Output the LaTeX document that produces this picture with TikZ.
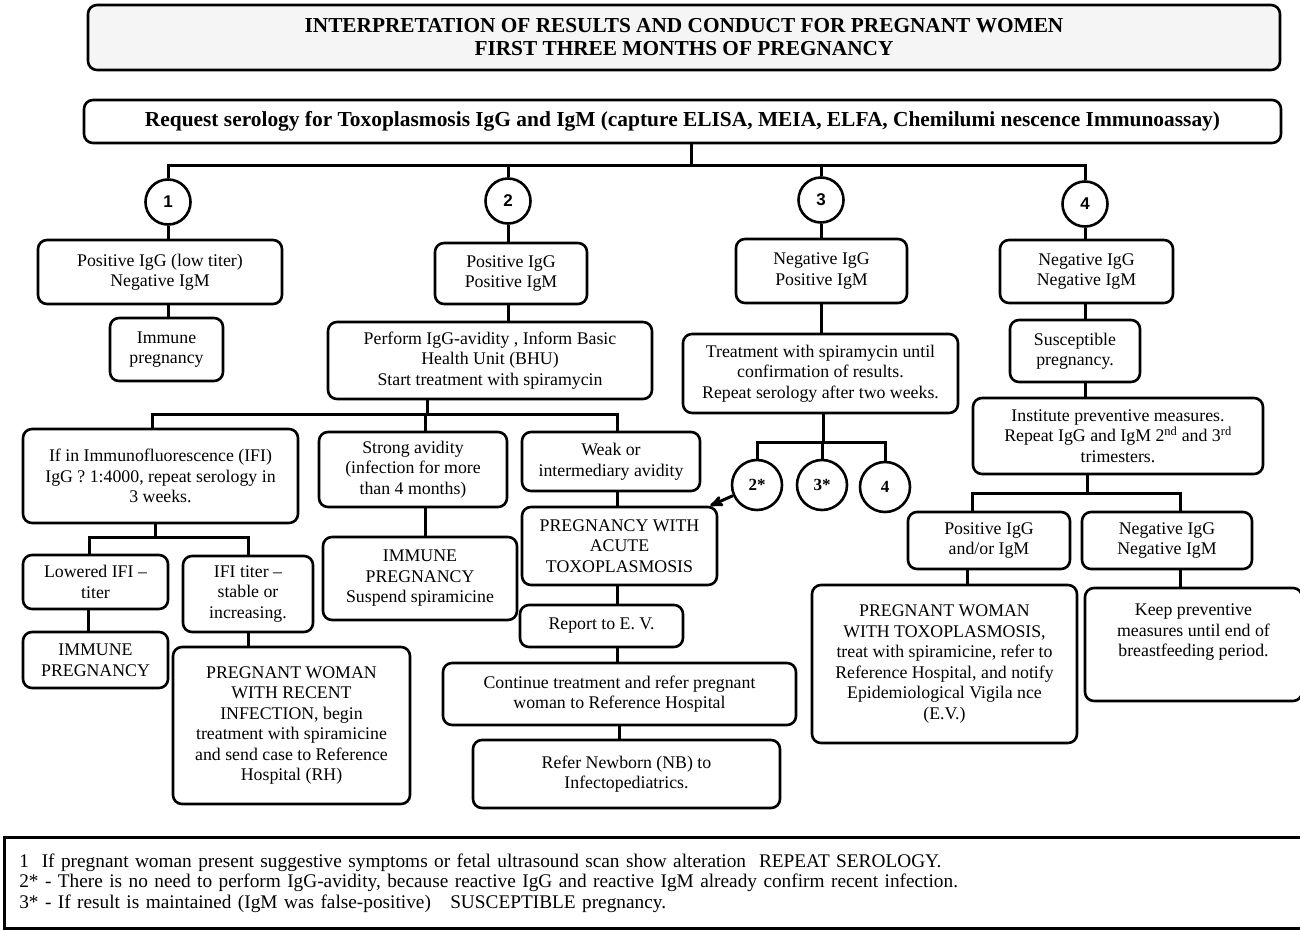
\documentclass[tikz,border=0pt]{standalone}
\usepackage{fontspec}
\setmainfont{Liberation Serif}
\newfontfamily\numfont{Liberation Sans}
\usetikzlibrary{arrows}
\newcommand{\boxfont}{\fontsize{17.8}{20.5}\selectfont}

\begin{document}
\begin{tikzpicture}[x=1pt,y=-1pt,>=stealth',
    box/.style={draw,line width=2.6pt,rounded corners=9pt,align=center,inner sep=2pt,font=\boxfont},
    num/.style={draw,circle,line width=2.6pt,minimum size=45pt,inner sep=0pt,font=\numfont\bfseries\fontsize{17}{20}\selectfont},
    star/.style={draw,circle,line width=2.6pt,minimum size=50pt,inner sep=0pt,font=\bfseries\fontsize{17}{20}\selectfont},
    wire/.style={line width=3pt}]
  \useasboundingbox (0,0) rectangle (1300,929);
  \node[box,fill=gray!8,minimum width=1192pt,minimum height=65pt,font=\bfseries\fontsize{21.3}{23}\selectfont]
      (title) at (684,37.5) {INTERPRETATION OF RESULTS AND CONDUCT FOR PREGNANT WOMEN\\FIRST THREE MONTHS OF PREGNANCY};
  \node[box,minimum width=1197pt,minimum height=43pt,font=\bfseries\fontsize{21.4}{23}\selectfont]
      (req) at (682.5,121.5) {Request serology for Toxoplasmosis IgG and IgM (capture ELISA, MEIA, ELFA, Chemilumi nescence Immunoassay)};
  \node[num]  (c1)      at (168,202)      {1};
  \node[num]  (c2)      at (508,201)      {2};
  \node[num]  (c3)      at (821,200)      {3};
  \node[num]  (c4)      at (1085,204)     {4};
  \node[box,minimum width=244pt,minimum height=64pt]  (n1a)     at (160,272)      {Positive IgG (low titer)\\Negative IgM};
  \node[box,minimum width=113pt,minimum height=63pt]  (n1b)     at (166.5,349.5)  {Immune\\pregnancy};
  \node[box,minimum width=152pt,minimum height=61pt]  (n2a)     at (511,273.5)    {Positive IgG\\Positive IgM};
  \node[box,minimum width=324pt,minimum height=77pt]  (n2b)     at (490,360.5)    {Perform IgG-avidity , Inform Basic\\Health Unit (BHU)\\Start treatment with spiramycin};
  \node[box,minimum width=171pt,minimum height=64pt]  (n3a)     at (821.5,271)    {Negative IgG\\Positive IgM};
  \node[box,minimum width=275pt,minimum height=79pt]  (n3b)     at (820.5,373.5)  {Treatment with spiramycin until\\confirmation of results.\\Repeat serology after two weeks.};
  \node[box,minimum width=173pt,minimum height=63pt]  (n4a)     at (1086.5,271.5) {Negative IgG\\Negative IgM};
  \node[box,minimum width=130pt,minimum height=62pt]  (n4b)     at (1075,351)     {Susceptible\\pregnancy.};
  \node[box,minimum width=290pt,minimum height=76pt]  (n4c)     at (1118,436)     {Institute preventive measures.\\Repeat IgG and IgM 2\textsuperscript{nd} and 3\textsuperscript{rd}\\trimesters.};
  \node[box,minimum width=275pt,minimum height=94pt]  (ifi)     at (160.5,476)    {If in Immunofluorescence (IFI)\\IgG ? 1:4000, repeat serology in\\3 weeks.};
  \node[box,minimum width=188pt,minimum height=75pt]  (strong)  at (413,469.5)    {Strong avidity\\(infection for more\\than 4 months)};
  \node[box,minimum width=178pt,minimum height=59pt]  (weak)    at (611,461.5)    {Weak or\\intermediary avidity};
  \node[box,minimum width=145pt,minimum height=54pt]  (lowered) at (95.5,582)     {Lowered IFI --\\titer};
  \node[box,minimum width=130pt,minimum height=76pt]  (stable)  at (248,594)      {IFI titer --\\stable or\\increasing.};
  \node[box,minimum width=145pt,minimum height=56pt]  (immL)    at (95.5,660)     {IMMUNE\\PREGNANCY};
  \node[box,minimum width=237pt,minimum height=157pt] (recent)  at (291.5,725.5)  {PREGNANT WOMAN\\WITH RECENT\\INFECTION, begin\\treatment with spiramicine\\and send case to Reference\\Hospital (RH)};
  \node[box,minimum width=194pt,minimum height=83pt]  (immS)    at (420,578.5)    {IMMUNE\\PREGNANCY\\Suspend spiramicine};
  \node[box,minimum width=195pt,minimum height=78pt]  (acute)   at (619.5,546)    {PREGNANCY WITH\\ACUTE\\TOXOPLASMOSIS};
  \node[box,minimum width=163pt,minimum height=42pt]  (report)  at (601.5,626)    {Report to E. V.};
  \node[box,minimum width=353pt,minimum height=62pt]  (cont)    at (619.5,694)    {Continue treatment and refer pregnant\\woman to Reference Hospital};
  \node[box,minimum width=307pt,minimum height=68pt]  (newborn) at (626.5,774)    {Refer Newborn (NB) to\\Infectopediatrics.};
  \node[star] (s2)      at (757,485)      {2*};
  \node[star] (s3)      at (822,485)      {3*};
  \node[star] (s4)      at (885,487)      {4};
  \node[box,minimum width=162pt,minimum height=57pt]  (posIg)   at (989,540.5)    {Positive IgG\\and/or IgM};
  \node[box,minimum width=170pt,minimum height=57pt]  (negIg)   at (1167,540.5)   {Negative IgG\\Negative IgM};
  \node[box,minimum width=265pt,minimum height=158pt] (toxo)    at (944.5,664)    {PREGNANT WOMAN\\WITH TOXOPLASMOSIS,\\treat with spiramicine, refer to\\Reference Hospital, and notify\\Epidemiological Vigila nce\\(E.V.)};
  \node[box,minimum width=217pt,minimum height=113pt] (keep)    at (1193.5,644.5) {Keep preventive\\measures until end of\\breastfeeding period.\\[8pt]};
  \node[draw,line width=2.6pt,anchor=north west,minimum width=1320pt,minimum height=91pt,text width=1290pt,
        inner xsep=14pt,align=left,font=\fontsize{19.3}{20.5}\selectfont]
      (notes) at (3,836) {1\ \ If pregnant woman present suggestive symptoms or fetal ultrasound scan show alteration\ \ REPEAT SEROLOGY.\\
        2* - There is no need to perform IgG-avidity, because reactive IgG and reactive IgM already confirm recent infection.\\
        3* - If result is maintained (IgM was false-positive)\ \ \ SUSCEPTIBLE pregnancy.};
  \coordinate (b1) at (691,165);
  \coordinate (b2) at (427,414);
  \coordinate (b3) at (155,537);
  \coordinate (b4) at (823,442);
  \coordinate (b5) at (1087,493);
  \draw[wire] (req.south -| b1) -- (b1);
  \draw[wire] (b1) -| (c1);
  \draw[wire] (b1) -| (c2);
  \draw[wire] (b1) -| (c3);
  \draw[wire] (b1) -| (c4);
  \draw[wire] (c1) -- (n1a.north -| c1);
  \draw[wire] (n1a.south -| c1) -- (n1b.north -| c1);
  \draw[wire] (c2) -- (n2a.north -| c2);
  \draw[wire] (n2a.south -| c2) -- (n2b.north -| c2);
  \draw[wire] (c3) -- (n3a.north -| c3);
  \draw[wire] (n3a.south -| c3) -- (n3b.north -| c3);
  \draw[wire] (c4) -- (n4a.north -| c4);
  \draw[wire] (n4a.south -| c4) -- (n4b.north -| c4);
  \draw[wire] (n4b.south -| c4) -- (n4c.north -| c4);
  \draw[wire] (n2b.south -| b2) -- (b2);
  \draw[wire] (b2) -| ([xshift=-8pt]ifi.north);
  \draw[wire] (b2) -| ([xshift=12pt]strong.north);
  \draw[wire] (b2) -| ([xshift=6pt]weak.north);
  \draw[wire] (ifi.south -| b3) -- (b3);
  \draw[wire] (b3) -| ([xshift=-6pt]lowered.north);
  \draw[wire] (b3) -| (stable);
  \draw[wire] ([xshift=-7pt]lowered.south) -- ([xshift=-7pt]immL.north);
  \draw[wire] (stable) -- (stable |- recent.north);
  \draw[wire] ([xshift=12pt]strong.south) -- ([xshift=12pt]strong.south |- immS.north);
  \draw[wire] ([xshift=6pt]weak.south) -- ([xshift=6pt]weak.south |- acute.north);
  \draw[wire] ([xshift=6pt]weak.south |- acute.south) -- ([xshift=6pt]weak.south |- report.north);
  \draw[wire] ([xshift=6pt]weak.south |- report.south) -- ([xshift=6pt]weak.south |- cont.north);
  \draw[wire] (cont) -- (cont |- newborn.north);
  \draw[wire] (n3b.south -| b4) -- (b4);
  \draw[wire] (b4) -| (s2);
  \draw[wire] (b4) -| (s3);
  \draw[wire] (b4) -| (s4);
  \draw[wire,->] (s2) -- ([xshift=-8pt]acute.north east);
  \draw[wire] (n4c.south -| b5) -- (b5);
  \draw[wire] (b5) -| ([xshift=-17pt]posIg.north);
  \draw[wire] (b5) -| ([xshift=13pt]negIg.north);
  \draw[wire] ([xshift=-22pt]posIg.south) -- ([xshift=-22pt]posIg.south |- toxo.north);
  \draw[wire] ([xshift=13pt]negIg.south) -- ([xshift=13pt]negIg.south |- keep.north);
\end{tikzpicture}
\end{document}
